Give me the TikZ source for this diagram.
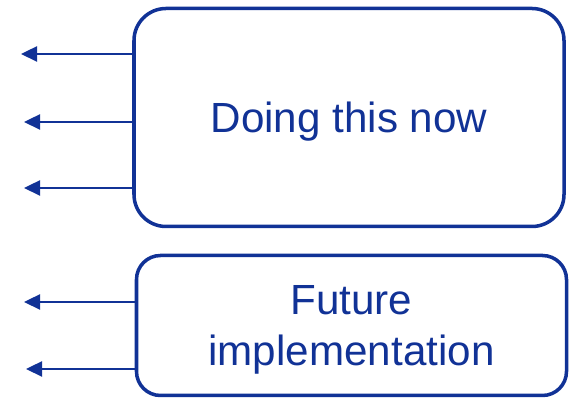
\documentclass[tikz,border=0pt]{standalone}
\usepackage{fontspec}
\setmainfont{Liberation Sans}
\usepackage{tikz}
\usetikzlibrary{arrows.meta,shapes,positioning}

\definecolor{planblue}{RGB}{17,50,150}

\tikzset{
    planbox/.style={draw=planblue, line width=2pt, text=planblue, align=center,
        font=\fontsize{24}{28.5}\selectfont, minimum width=8.6cm, text depth=0pt},
    outarrow/.style={draw=planblue, line width=1.3pt,
        -{Triangle[length=3.2mm,width=3mm]}}
}

\begin{document}
\begin{tikzpicture}
        \useasboundingbox (0cm,0cm) rectangle (11.46cm,7.98cm);

        \node[planbox, rounded corners=0.64cm, minimum height=4.36cm] (now) at (6.98cm,5.63cm) {Doing this now};
        \node[planbox, rounded corners=0.48cm, minimum height=2.8cm] (future) at (7.03cm,1.47cm) {Future\\implementation};

        \foreach \n/\x/\y in {a/0.42/6.90, b/0.48/5.54, c/0.48/4.22} {
            \coordinate (now\n) at (\x cm,\y cm);
            \draw[outarrow] (now.west |- now\n) -- (now\n);
        }

        \foreach \n/\x/\y in {a/0.48/1.94, b/0.52/0.60} {
            \coordinate (future\n) at (\x cm,\y cm);
            \draw[outarrow] (future.west |- future\n) -- (future\n);
        }
\end{tikzpicture}
\end{document}
